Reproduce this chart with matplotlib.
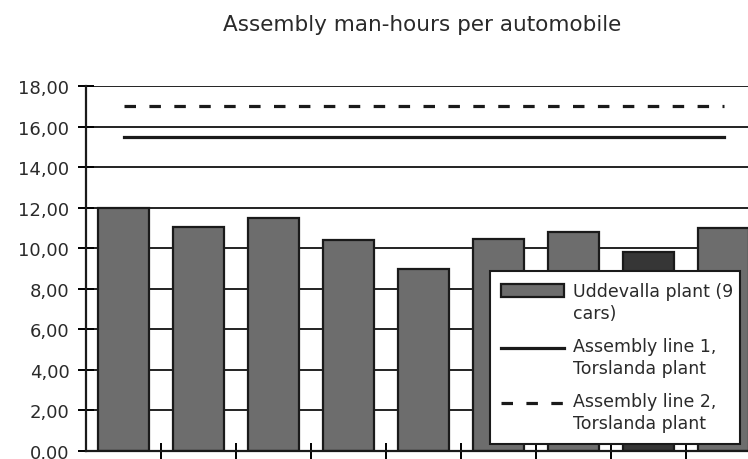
import numpy as np
import matplotlib.pyplot as plt
from matplotlib.legend_handler import HandlerLine2D, HandlerPatch

plt.rcParams['font.family'] = ['DejaVu Sans']
plt.rcParams['text.color'] = '#2a2a2a'
plt.rcParams['ytick.labelcolor'] = '#2a2a2a'

# valores
cars = np.arange(9)
uddevalla = [12.0, 11.05, 11.5, 10.4, 8.97, 10.45, 10.8, 9.8, 11.0]
line1 = [15.5] * 9
line2 = [17.0] * 9
yticks = [0, 2, 4, 6, 8, 10, 12, 14, 16, 18]


# legenda: símbolo alinhado com a primeira linha do texto
class LineUp(HandlerLine2D):
    def create_artists(self, legend, orig_handle, xdescent, ydescent, width, height, fontsize, trans):
        arts = super().create_artists(legend, orig_handle, xdescent, ydescent, width, height, fontsize, trans)
        for a in arts:
            a.set_ydata(np.asarray(a.get_ydata()) + 0.6 * fontsize)
        return arts


class PatchUp(HandlerPatch):
    def create_artists(self, legend, orig_handle, xdescent, ydescent, width, height, fontsize, trans):
        arts = super().create_artists(legend, orig_handle, xdescent, ydescent, width, height, fontsize, trans)
        for a in arts:
            a.set_y(a.get_y() + 0.75 * fontsize)
        return arts


fig = plt.figure(figsize=(7.48, 4.60), dpi=100)
ax = fig.add_axes([86 / 748, 8 / 460, 675 / 748, 365 / 460])

ax.set_axisbelow(True)
ax.yaxis.grid(True, color='#222222', lw=1.4)

colors = ['#6d6d6d'] * 9
colors[7] = '#363636'
bars = ax.bar(cars, uddevalla, width=0.67, color=colors, edgecolor='#1a1a1a', lw=1.6)
l1, = ax.plot(cars, line1, color='#1a1a1a', lw=2.3)
l2, = ax.plot(cars, line2, color='#1a1a1a', lw=2.3, dashes=(3.6, 4.2))

ax.set_xlim(-0.5, 8.5)
ax.set_ylim(0, 18)
ax.set_yticks(yticks)
ax.set_yticklabels([f'{v:.2f}'.replace('.', ',') for v in yticks], fontsize=13)
ax.set_xticks(np.arange(0.5, 8.5, 1))
ax.set_xticklabels([])
ax.tick_params(axis='y', direction='inout', length=12, width=1.4, pad=6)
ax.tick_params(axis='x', direction='inout', length=12, width=1.4)
for s in ['top', 'right']:
    ax.spines[s].set_visible(False)
for s in ['left', 'bottom']:
    ax.spines[s].set_linewidth(1.6)
    ax.spines[s].set_color('#1a1a1a')

fig.text(422 / 748, 1 - 25 / 460, 'Assembly man-hours per automobile',
         ha='center', va='center', fontsize=15.5)

leg = ax.legend([bars[0], l1, l2],
                ['Uddevalla plant (9\ncars)', 'Assembly line 1,\nTorslanda plant',
                 'Assembly line 2,\nTorslanda plant'],
                handler_map={bars[0]: PatchUp(), l1: LineUp(), l2: LineUp()},
                loc='upper left', mode='expand',
                bbox_to_anchor=(490 / 748, 17 / 460, 250 / 748, 171 / 460),
                bbox_transform=fig.transFigure, borderaxespad=0, fontsize=12.5,
                handlelength=3.6, handleheight=0.75, handletextpad=0.55,
                labelspacing=0.85, borderpad=0.65, fancybox=False,
                framealpha=1, edgecolor='#1a1a1a')
for t in leg.get_texts():
    t.set_linespacing(1.3)
leg.legend_handles[0].set_facecolor('#6d6d6d')
leg.get_frame().set_linewidth(1.5)

fig.savefig('out.png', dpi=100)
